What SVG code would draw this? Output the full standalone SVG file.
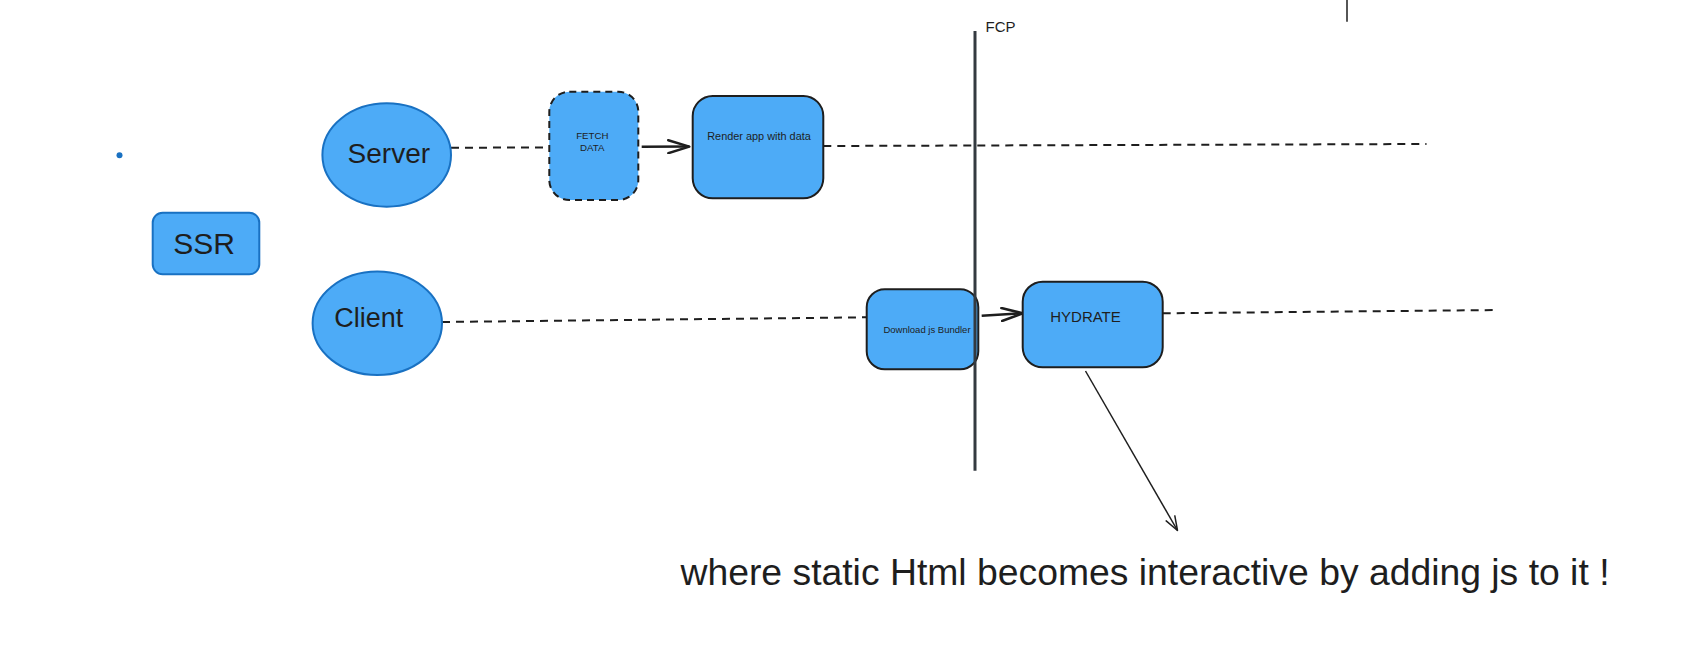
<svg xmlns="http://www.w3.org/2000/svg" width="1708" height="660" viewBox="0 0 1708 660">
  <style>
    .blue { fill: #4dabf7; stroke: #1971c2; stroke-width: 2; }
    .box { fill: #4dabf7; stroke: #1e1e1e; stroke-width: 2; }
    .dashbox { fill: #4dabf7; stroke: #1e1e1e; stroke-width: 2; stroke-dasharray: 7 5; }
    .dash { fill: none; stroke: #1e1e1e; stroke-width: 2; stroke-dasharray: 8 6; }
    .arrow { fill: none; stroke: #1e1e1e; stroke-width: 2.5; }
    .thin { fill: none; stroke: #1e1e1e; stroke-width: 1.5; }
    .txt { font-family: "Liberation Sans", Arial, sans-serif; fill: #1e1e1e; text-anchor: middle; }
  </style>
  <defs>
    <marker id="head" markerUnits="userSpaceOnUse" viewBox="-1 -1 24 15" refX="21" refY="6.5" markerWidth="24" markerHeight="15" orient="auto">
      <path d="M0,0 L21,6.5 L0,13" fill="none" stroke="#1e1e1e" stroke-width="2.5" stroke-linecap="round" stroke-linejoin="round"/>
    </marker>
    <marker id="headSmall" markerUnits="userSpaceOnUse" viewBox="-1 -1 16 12" refX="14" refY="5" markerWidth="16" markerHeight="12" orient="auto">
      <path d="M0,0 L14,5 L0,10" fill="none" stroke="#1e1e1e" stroke-width="1.5" stroke-linecap="round" stroke-linejoin="round"/>
    </marker>
  </defs>
  <rect width="1708" height="660" fill="#ffffff"/>

  <g id="dot">
    <circle cx="119.5" cy="155.3" r="3" fill="#1971c2"/>
  </g>

  <g id="connectors">
    <line class="dash" x1="451" y1="147.7" x2="549" y2="147.5"/>
    <line class="arrow" x1="641.7" y1="146.8" x2="689.3" y2="146.6" marker-end="url(#head)"/>
    <line class="dash" x1="823.3" y1="146" x2="1426.5" y2="144"/>
    <line class="dash" x1="442" y1="322" x2="866.7" y2="317.3"/>
    <line class="arrow" x1="981.7" y1="315.7" x2="1022.7" y2="313.3" marker-end="url(#head)"/>
    <line class="dash" x1="1162.7" y1="313.3" x2="1498" y2="310"/>
    <line class="thin" x1="1085.5" y1="371" x2="1177.5" y2="530.5" marker-end="url(#headSmall)"/>
  </g>

  <g id="ssr">
    <rect class="blue" x="152.7" y="212.7" width="106.6" height="61.6" rx="10"/>
    <text class="txt" x="204" y="254" font-size="30">SSR</text>
  </g>

  <g id="server">
    <ellipse class="blue" cx="386.7" cy="155" rx="64.3" ry="51.7"/>
    <text class="txt" x="388.8" y="163.3" font-size="28">Server</text>
  </g>

  <g id="client">
    <ellipse class="blue" cx="377.3" cy="323.3" rx="64.7" ry="51.7"/>
    <text class="txt" x="368.7" y="326.7" font-size="27">Client</text>
  </g>

  <g id="fetch-data">
    <rect class="dashbox" x="549.3" y="91.7" width="89" height="108.3" rx="20"/>
    <text class="txt" x="592.3" y="139.3" font-size="9.7">FETCH</text>
    <text class="txt" x="592.3" y="151" font-size="9.7">DATA</text>
  </g>

  <g id="render">
    <rect class="box" x="692.7" y="96" width="130.6" height="102.3" rx="20"/>
    <text class="txt" x="759" y="140" font-size="10.9">Render app with data</text>
  </g>

  <g id="download">
    <rect class="box" x="866.7" y="289.3" width="111.6" height="80" rx="18"/>
    <text class="txt" x="927" y="332.7" font-size="9.5">Download js Bundler</text>
  </g>

  <g id="hydrate">
    <rect class="box" x="1022.7" y="281.7" width="140" height="85.6" rx="20"/>
    <text class="txt" x="1085.5" y="321.7" font-size="15">HYDRATE</text>
  </g>

  <g id="fcp">
    <line x1="975" y1="31" x2="975" y2="470.7" stroke="#343a40" stroke-width="3"/>
    <text class="txt" x="1000.6" y="32.3" font-size="15">FCP</text>
  </g>

  <g id="mark">
    <line x1="1347" y1="0" x2="1347" y2="21.7" stroke="#1e1e1e" stroke-width="1.5"/>
  </g>

  <g id="note">
    <text class="txt" x="1145" y="585" font-size="37" textLength="929" lengthAdjust="spacingAndGlyphs">where static Html becomes interactive by adding js to it !</text>
  </g>
</svg>
